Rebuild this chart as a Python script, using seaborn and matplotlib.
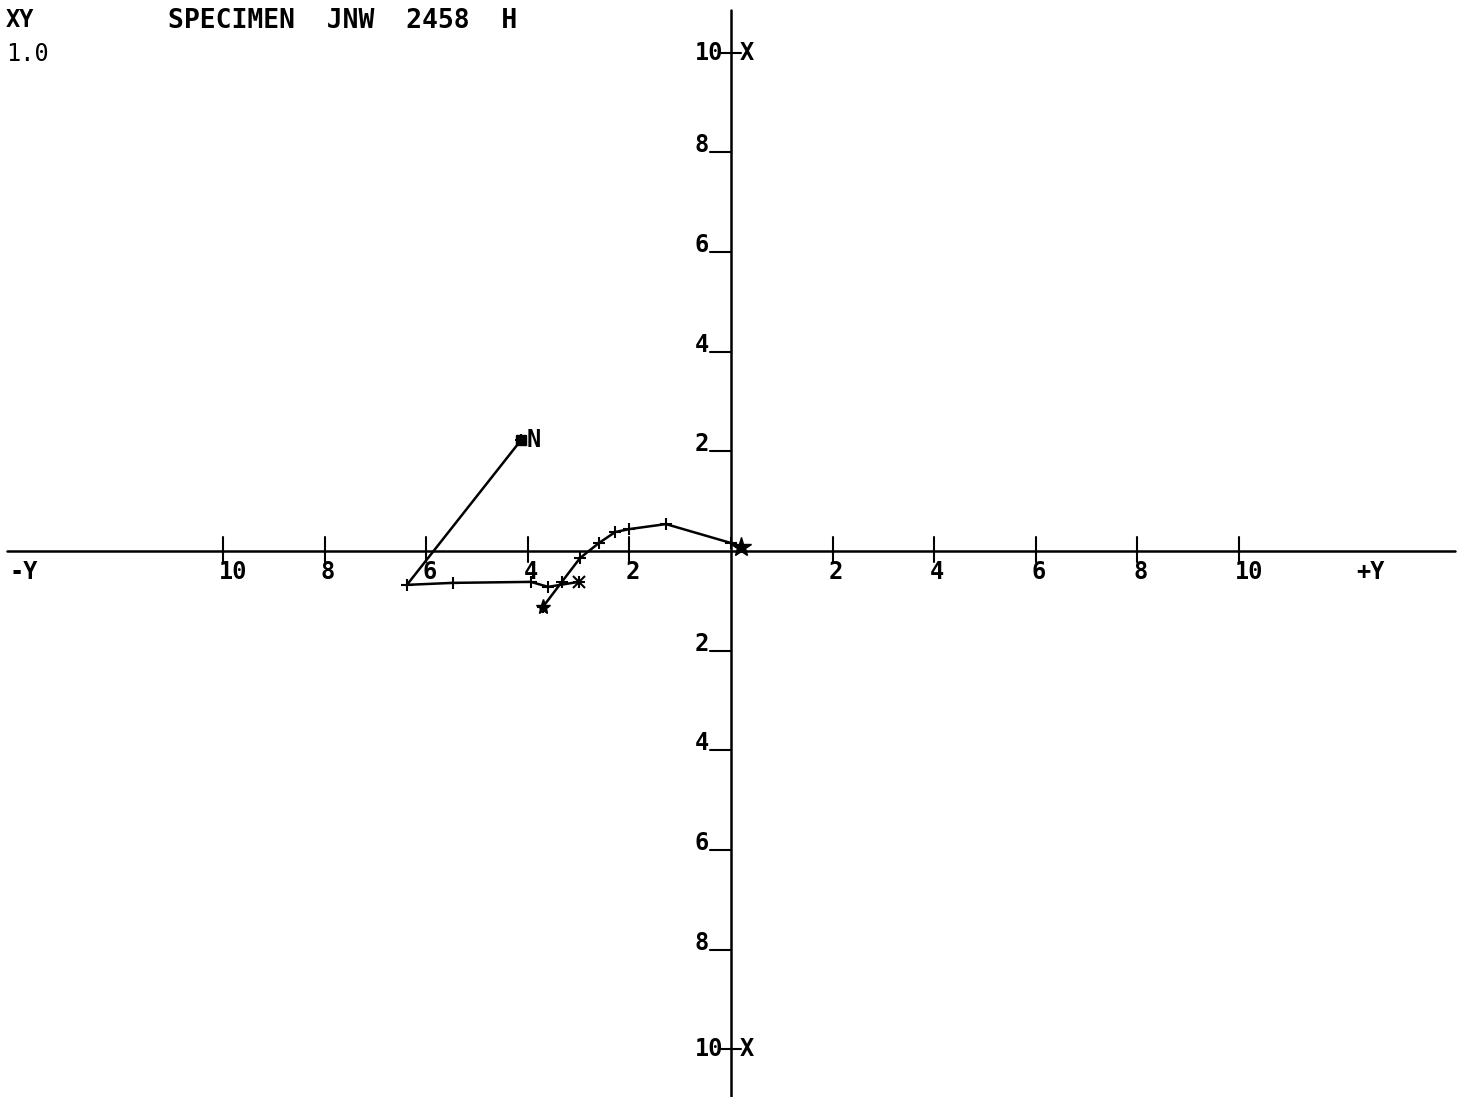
import matplotlib
matplotlib.use("Agg")
import matplotlib.pyplot as plt
import seaborn as sns

# Zijderveld style plot, values in units of 1.0
# path through NRM point "N" (left branch)
path_a_y = [-4.13, -6.38, -5.48, -3.94, -3.6, -3.0]
path_a_x = [2.23, -0.68, -0.64, -0.62, -0.72, -0.62]

# path toward the origin
path_b_y = [-3.7, -3.33, -2.97, -2.6, -2.28, -2.0, -1.28, 0.0, 0.2]
path_b_x = [-1.12, -0.62, -0.14, 0.16, 0.38, 0.44, 0.54, 0.16, 0.08]

h_ticks = [-10, -8, -6, -4, -2, 2, 4, 6, 8, 10]
v_ticks = [-10, -8, -6, -4, -2, 2, 4, 6, 8, 10]

title = "SPECIMEN  JNW  2458  H"

sns.set_theme(style="white")
plt.rcParams["font.family"] = ["DejaVu Sans Mono", "DejaVu Sans"]
plt.rcParams["text.color"] = "black"

fig = plt.figure(figsize=(14.63, 10.97), dpi=100)
ax = fig.add_axes([0, 0, 1, 1])
ax.set_xlim(-14.39, 14.41)
ax.set_ylim(-10.96, 11.06)
ax.axis("off")

fs = 17

# axes lines
ax.plot([-14.25, 14.25], [0, 0], color="black", lw=1.8)
ax.plot([0, 0], [-11.0, 10.86], color="black", lw=1.8)

# horizontal axis ticks + labels
for t in h_ticks:
    ax.plot([t, t], [-0.22, 0.28], color="black", lw=1.5)
    ax.text(t - 0.08, -0.18, str(abs(t)), ha="left", va="top", fontsize=fs, fontweight="bold")
ax.text(-14.2, -0.18, "-Y", ha="left", va="top", fontsize=fs, fontweight="bold")
ax.text(12.3, -0.18, "+Y", ha="left", va="top", fontsize=fs, fontweight="bold")

# vertical axis ticks + labels
for t in v_ticks:
    if abs(t) == 10:
        ax.plot([-0.2, 0.2], [t, t], color="black", lw=1.5)
        ax.text(-0.15, t, str(abs(t)), ha="right", va="center", fontsize=fs, fontweight="bold")
        ax.text(0.18, t, "X", ha="left", va="center", fontsize=fs, fontweight="bold")
    else:
        ax.plot([-0.42, 0], [t, t], color="black", lw=1.5)
        ax.text(-0.44, t + 0.14, str(abs(t)), ha="right", va="center", fontsize=fs, fontweight="bold")

# data paths
line_kw = dict(sort=False, color="black", lw=1.8, marker="+", markersize=8,
               markeredgewidth=1.5, markeredgecolor="black", ax=ax)
sns.lineplot(x=path_a_y, y=path_a_x, **line_kw)
sns.lineplot(x=path_b_y, y=path_b_x, **line_kw)
ax.plot(path_a_y[0], path_a_x[0], marker="s", color="black", markersize=7)
ax.text(path_a_y[0] + 0.1, path_a_x[0], "N", ha="left", va="center", fontsize=fs, fontweight="bold")
ax.plot(path_b_y[-1], path_b_x[-1], marker="*", color="black", markersize=15)
ax.plot(path_b_y[0], path_b_x[0], marker="*", color="black", markersize=11)
ax.plot(path_a_y[-1], path_a_x[-1], marker="x", color="black", markersize=8, markeredgewidth=1.5)

# header
fig.text(0.004, 0.993, "XY", ha="left", va="top", fontsize=fs, fontweight="bold")
fig.text(0.004, 0.962, "1.0", ha="left", va="top", fontsize=fs)
fig.text(0.115, 0.993, title, ha="left", va="top", fontsize=19, fontweight="bold")

fig.savefig("out.png", dpi=100)
